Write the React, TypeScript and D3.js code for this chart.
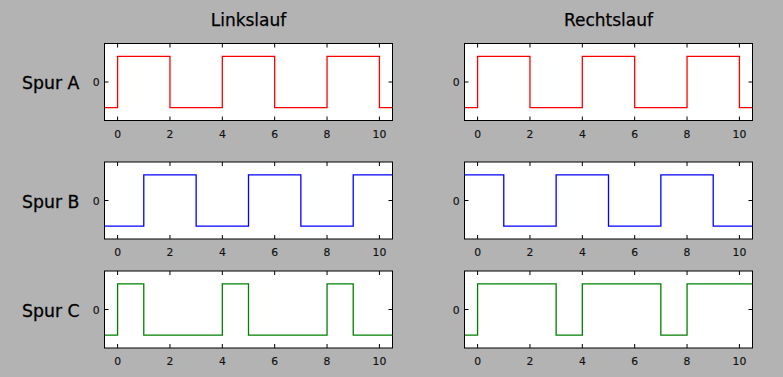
import React from "react";
import * as d3 from "d3";

const columnTitles = ["Linkslauf", "Rechtslauf"];
const rowLabels = ["Spur A", "Spur B", "Spur C"];
const rowColors = ["#ff0000", "#0000ff", "#008000"];
const xTicks = [0, 2, 4, 6, 8, 10];
const yTicks = [0];

// step signals: times where the value changes, values hold until the next time
const linksA_t = [-0.5, 0, 2, 4, 6, 8, 10, 10.5];
const linksA_v = [-1, 1, -1, 1, -1, 1, -1, -1];
const linksB_t = [-0.5, 1, 3, 5, 7, 9, 10.5];
const linksB_v = [-1, 1, -1, 1, -1, 1, 1];
const linksC_t = [-0.5, 0, 1, 4, 5, 8, 9, 10.5];
const linksC_v = [-1, 1, -1, 1, -1, 1, -1, -1];
const rechtsA_t = [-0.5, 0, 2, 4, 6, 8, 10, 10.5];
const rechtsA_v = [-1, 1, -1, 1, -1, 1, -1, -1];
const rechtsB_t = [-0.5, 1, 3, 5, 7, 9, 10.5];
const rechtsB_v = [1, -1, 1, -1, 1, -1, -1];
const rechtsC_t = [-0.5, 0, 3, 4, 7, 8, 10.5];
const rechtsC_v = [-1, 1, -1, 1, -1, 1, 1];

const series = [
  [[linksA_t, linksA_v], [rechtsA_t, rechtsA_v]],
  [[linksB_t, linksB_v], [rechtsB_t, rechtsB_v]],
  [[linksC_t, linksC_v], [rechtsC_t, rechtsC_v]],
];

const W = 783, H = 377;
const colX = [104.5, 464.5];
const panelW = 288;
const rowY = [43.5, 162, 271];
const panelH = 77;
const font = "'DejaVu Sans', sans-serif";
const tickFont = "'DejaVu Sans', sans-serif";

function Panel({ x0, y0, t, v, color }: any) {
  const xs = d3.scaleLinear().domain([-0.5, 10.5]).range([x0, x0 + panelW]);
  const ys = d3.scaleLinear().domain([-1.5, 1.5]).range([y0 + panelH, y0]);
  const pts = t.map((tt: number, i: number) => [tt, v[i]] as [number, number]);
  const line = d3
    .line<[number, number]>()
    .x((d) => xs(d[0]))
    .y((d) => ys(d[1]))
    .curve(d3.curveStepAfter);
  const tl = 4;
  return (
    <g>
      <rect x={x0} y={y0} width={panelW} height={panelH} fill="#fff" />
      <path d={line(pts) || ""} fill="none" stroke={color} strokeWidth={1.3} />
      {xTicks.map((tk) => (
        <g key={tk}>
          <line x1={xs(tk)} x2={xs(tk)} y1={y0 + panelH} y2={y0 + panelH - tl} stroke="#000" />
          <line x1={xs(tk)} x2={xs(tk)} y1={y0} y2={y0 + tl} stroke="#000" />
          <text x={xs(tk)} y={y0 + panelH + 17.3} textAnchor="middle" fontFamily={tickFont} fontSize={10.8} fill="#111" stroke="#111" strokeWidth={0.15}>
            {tk}
          </text>
        </g>
      ))}
      {yTicks.map((tk) => (
        <g key={tk}>
          <line x1={x0} x2={x0 + tl} y1={ys(tk)} y2={ys(tk)} stroke="#000" />
          <line x1={x0 + panelW} x2={x0 + panelW - tl} y1={ys(tk)} y2={ys(tk)} stroke="#000" />
          <text x={x0 - 5} y={ys(tk) + 4} textAnchor="end" fontFamily={tickFont} fontSize={10.8} fill="#111" stroke="#111" strokeWidth={0.15}>
            {tk}
          </text>
        </g>
      ))}
      <rect x={x0} y={y0} width={panelW} height={panelH} fill="none" stroke="#000" strokeWidth={1} />
    </g>
  );
}

export default function App() {
  return (
    <svg width={W} height={H} style={{ position: "absolute", left: 0, top: 0 }}>
      <rect x={0} y={0} width={W} height={H} fill="#b3b3b3" />
      {columnTitles.map((ttl, c) => (
        <text key={ttl} x={colX[c] + panelW / 2} y={26} textAnchor="middle" fontFamily={font} fontSize={17} fill="#000" stroke="#000" strokeWidth={0.25}>
          {ttl}
        </text>
      ))}
      {rowLabels.map((lbl, r) => (
        <text key={lbl} x={22} y={rowY[r] + panelH / 2 + 7.3} fontFamily={font} fontSize={17.3} fill="#000" stroke="#000" strokeWidth={0.3}>
          {lbl}
        </text>
      ))}
      {series.map((row, r) =>
        row.map(([t, v], c) => (
          <Panel key={`${r}-${c}`} x0={colX[c]} y0={rowY[r]} t={t} v={v} color={rowColors[r]} />
        ))
      )}
    </svg>
  );
}
